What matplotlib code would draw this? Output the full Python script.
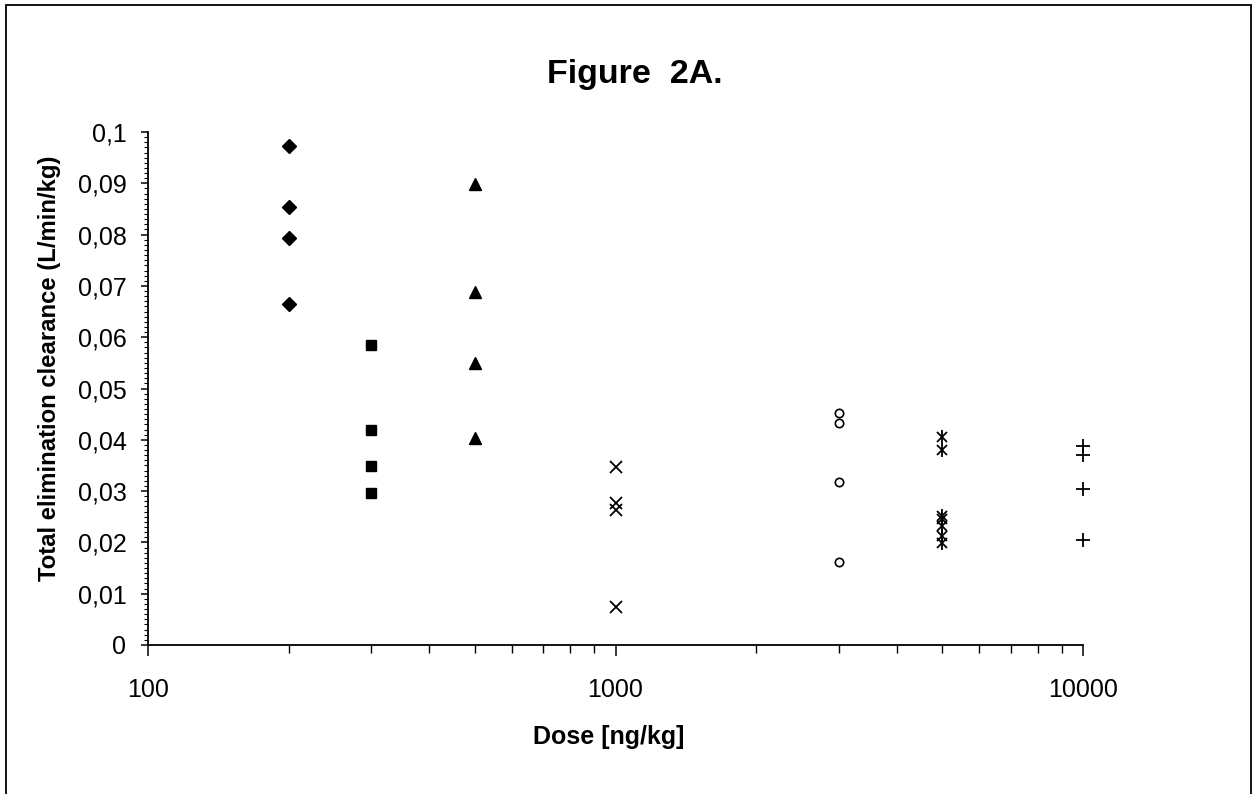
import matplotlib
matplotlib.use("Agg")
import matplotlib.pyplot as plt
from matplotlib.patches import Rectangle
from matplotlib.ticker import FixedLocator, MultipleLocator, NullFormatter

plt.rcParams['font.family'] = ['Liberation Sans', 'DejaVu Sans']

# ---- data ----
dose_200 = [200, 200, 200, 200]
cl_200 = [0.0973, 0.0854, 0.0794, 0.0665]
dose_300 = [300, 300, 300, 300]
cl_300 = [0.0585, 0.0420, 0.0348, 0.0297]
dose_500 = [500, 500, 500, 500]
cl_500 = [0.0899, 0.0689, 0.0550, 0.0404]
dose_1000 = [1000, 1000, 1000, 1000]
cl_1000 = [0.0347, 0.0276, 0.0263, 0.0075]
dose_3000 = [3000, 3000, 3000, 3000]
cl_3000 = [0.0452, 0.0432, 0.0318, 0.0161]
dose_5000 = [5000, 5000, 5000, 5000, 5000, 5000, 5000]
cl_5000 = [0.0406, 0.0381, 0.0252, 0.0245, 0.0232, 0.0212, 0.0198]
dose_10000 = [10000, 10000, 10000, 10000]
cl_10000 = [0.0387, 0.0370, 0.0305, 0.0205]

ytick_vals = [0, 0.01, 0.02, 0.03, 0.04, 0.05, 0.06, 0.07, 0.08, 0.09, 0.1]
ytick_labels = ['0', '0,01', '0,02', '0,03', '0,04', '0,05', '0,06', '0,07', '0,08', '0,09', '0,1']
xtick_vals = [100, 1000, 10000]
xtick_labels = ['100', '1000', '10000']

title = 'Figure  2A.'
xlabel = 'Dose [ng/kg]'
ylabel = 'Total elimination clearance (L/min/kg)'

# ---- figure ----
W, H = 1258, 794
fig = plt.figure(figsize=(W / 100, H / 100), dpi=100)
left, right, top, bottom = 148, 1083, 132, 645
ax = fig.add_axes([left / W, 1 - bottom / H, (right - left) / W, (bottom - top) / H])

k = dict(color='black', linestyle='none', clip_on=False)
ax.plot(dose_200, cl_200, marker='D', markersize=7.5, **k)
ax.plot(dose_300, cl_300, marker='s', markersize=7.2, **k)
ax.plot(dose_500, cl_500, marker='^', markersize=9, **k)
ax.plot(dose_1000, cl_1000, marker='x', markersize=8.5, markeredgewidth=1.3, **k)
ax.plot(dose_3000, cl_3000, marker='o', markersize=6, markerfacecolor='white',
        markeredgewidth=1.2, **k)
ax.plot(dose_5000, cl_5000, marker='x', markersize=7.5, markeredgewidth=1.3, **k)
ax.plot(dose_5000, cl_5000, marker='|', markersize=9.5, markeredgewidth=1.3, **k)
ax.plot(dose_10000, cl_10000, marker='+', markersize=9.5, markeredgewidth=1.3, **k)

ax.set_xscale('log')
ax.set_xlim(100, 10000)
ax.set_ylim(0, 0.1)

ax.spines['top'].set_visible(False)
ax.spines['right'].set_visible(False)
for s in ('left', 'bottom'):
    ax.spines[s].set_linewidth(1.3)

ax.yaxis.set_major_locator(FixedLocator(ytick_vals))
ax.set_yticklabels(ytick_labels)
ax.yaxis.set_minor_locator(MultipleLocator(0.001))
ax.xaxis.set_major_locator(FixedLocator(xtick_vals))
ax.set_xticklabels(xtick_labels)
ax.xaxis.set_minor_locator(FixedLocator([200, 300, 400, 500, 600, 700, 800, 900,
                                         2000, 3000, 4000, 5000, 6000, 7000, 8000, 9000]))
ax.xaxis.set_minor_formatter(NullFormatter())

ax.tick_params(axis='y', which='major', direction='out', length=5, width=1.1,
               labelsize=18, pad=10.5)
ax.tick_params(axis='y', which='minor', direction='out', length=3, width=0.8)
ax.tick_params(axis='x', which='major', direction='out', length=8, width=1.1,
               labelsize=18, pad=16)
ax.tick_params(axis='x', which='minor', direction='out', length=6, width=1.0)

ax.set_ylabel(ylabel, fontsize=17.2, fontweight='bold')
ax.yaxis.set_label_coords(-0.093, 0.54)
ax.set_xlabel(xlabel, fontsize=18, fontweight='bold')
ax.xaxis.set_label_coords(0.493, -0.155)

fig.text(635 / W, 1 - 75 / H, title, fontsize=24.5, fontweight='bold',
         ha='center', va='center')

fig.patches.append(Rectangle((6 / W, -0.01), (1251 - 6) / W, 1 - 5 / H + 0.01,
                             transform=fig.transFigure, fill=False,
                             edgecolor='black', linewidth=1.3))

fig.savefig('out.png', dpi=100)
